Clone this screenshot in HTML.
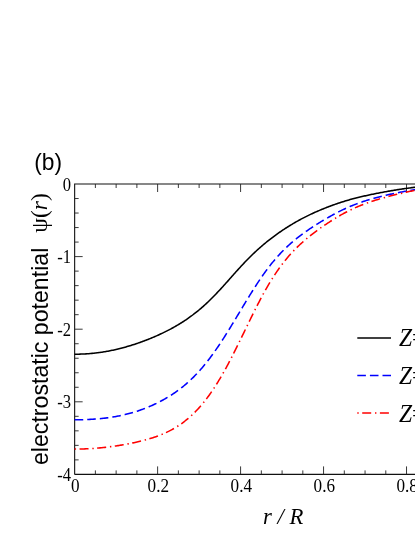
<!DOCTYPE html>
<html><head><meta charset="utf-8"><title>plot</title>
<style>html,body{margin:0;padding:0;background:#fff;}body{width:415px;height:537px;position:relative;overflow:hidden;font-family:"Liberation Sans",sans-serif;}</style>
</head><body>
<svg width="415" height="537" viewBox="0 0 415 537" style="position:absolute;left:0;top:0;will-change:transform">
<g stroke="#111" stroke-width="1.1" fill="none">
<path d="M74.65,474.4 L74.65,184.0 L417,184.0"/>
<path d="M74.65,474.4 L417,474.4"/>
<path d="M95.39,474.4 v-4 M95.39,184.0 v4 M116.14,474.4 v-4 M116.14,184.0 v4 M136.88,474.4 v-4 M136.88,184.0 v4 M157.62,474.4 v-8 M157.62,184.0 v8 M178.36,474.4 v-4 M178.36,184.0 v4 M199.11,474.4 v-4 M199.11,184.0 v4 M219.85,474.4 v-4 M219.85,184.0 v4 M240.59,474.4 v-8 M240.59,184.0 v8 M261.33,474.4 v-4 M261.33,184.0 v4 M282.08,474.4 v-4 M282.08,184.0 v4 M302.82,474.4 v-4 M302.82,184.0 v4 M323.56,474.4 v-8 M323.56,184.0 v8 M344.30,474.4 v-4 M344.30,184.0 v4 M365.05,474.4 v-4 M365.05,184.0 v4 M385.79,474.4 v-4 M385.79,184.0 v4 M406.53,474.4 v-8 M406.53,184.0 v8 M427.27,474.4 v-4 M427.27,184.0 v4 M74.65,198.52 h4 M74.65,213.04 h4 M74.65,227.56 h4 M74.65,242.08 h4 M74.65,256.60 h8 M74.65,271.12 h4 M74.65,285.64 h4 M74.65,300.16 h4 M74.65,314.68 h4 M74.65,329.20 h8 M74.65,343.72 h4 M74.65,358.24 h4 M74.65,372.76 h4 M74.65,387.28 h4 M74.65,401.80 h8 M74.65,416.32 h4 M74.65,430.84 h4 M74.65,445.36 h4 M74.65,459.88 h4" stroke-width="0.9" stroke="#222"/>
</g>
<g fill="none" stroke-width="1.55" stroke-linejoin="round">
<path d="M74.65,354.20 L75.00,354.20 L76.00,354.20 L77.00,354.19 L78.00,354.18 L79.00,354.16 L80.00,354.13 L81.00,354.10 L82.00,354.06 L83.00,354.02 L84.00,353.97 L85.00,353.92 L86.00,353.86 L87.00,353.80 L88.00,353.73 L89.00,353.65 L90.00,353.57 L91.00,353.48 L92.00,353.39 L93.00,353.29 L94.00,353.19 L95.00,353.08 L96.00,352.96 L97.00,352.84 L98.00,352.71 L99.00,352.58 L100.00,352.44 L101.00,352.30 L102.00,352.15 L103.00,352.00 L104.00,351.84 L105.00,351.67 L106.00,351.50 L107.00,351.32 L108.00,351.14 L109.00,350.95 L110.00,350.75 L111.00,350.55 L112.00,350.35 L113.00,350.14 L114.00,349.92 L115.00,349.70 L116.00,349.47 L117.00,349.24 L118.00,349.00 L119.00,348.75 L120.00,348.50 L121.00,348.25 L122.00,347.99 L123.00,347.72 L124.00,347.45 L125.00,347.18 L126.00,346.90 L127.00,346.61 L128.00,346.32 L129.00,346.02 L130.00,345.72 L131.00,345.42 L132.00,345.10 L133.00,344.79 L134.00,344.47 L135.00,344.14 L136.00,343.81 L137.00,343.47 L138.00,343.13 L139.00,342.78 L140.00,342.43 L141.00,342.07 L142.00,341.71 L143.00,341.34 L144.00,340.97 L145.00,340.59 L146.00,340.21 L147.00,339.82 L148.00,339.43 L149.00,339.03 L150.00,338.62 L151.00,338.22 L152.00,337.80 L153.00,337.38 L154.00,336.96 L155.00,336.53 L156.00,336.09 L157.00,335.65 L158.00,335.20 L159.00,334.75 L160.00,334.29 L161.00,333.82 L162.00,333.35 L163.00,332.87 L164.00,332.39 L165.00,331.89 L166.00,331.40 L167.00,330.89 L168.00,330.38 L169.00,329.86 L170.00,329.34 L171.00,328.81 L172.00,328.27 L173.00,327.72 L174.00,327.16 L175.00,326.59 L176.00,326.02 L177.00,325.44 L178.00,324.85 L179.00,324.25 L180.00,323.64 L181.00,323.02 L182.00,322.39 L183.00,321.75 L184.00,321.10 L185.00,320.44 L186.00,319.77 L187.00,319.08 L188.00,318.39 L189.00,317.69 L190.00,316.97 L191.00,316.24 L192.00,315.50 L193.00,314.75 L194.00,313.99 L195.00,313.22 L196.00,312.43 L197.00,311.63 L198.00,310.81 L199.00,309.99 L200.00,309.15 L201.00,308.30 L202.00,307.43 L203.00,306.55 L204.00,305.66 L205.00,304.75 L206.00,303.83 L207.00,302.90 L208.00,301.95 L209.00,300.99 L210.00,300.01 L211.00,299.03 L212.00,298.03 L213.00,297.02 L214.00,296.00 L215.00,294.98 L216.00,293.94 L217.00,292.89 L218.00,291.83 L219.00,290.77 L220.00,289.69 L221.00,288.61 L222.00,287.52 L223.00,286.43 L224.00,285.32 L225.00,284.22 L226.00,283.10 L227.00,281.98 L228.00,280.86 L229.00,279.74 L230.00,278.61 L231.00,277.48 L232.00,276.35 L233.00,275.23 L234.00,274.10 L235.00,272.97 L236.00,271.85 L237.00,270.74 L238.00,269.62 L239.00,268.52 L240.00,267.42 L241.00,266.32 L242.00,265.24 L243.00,264.16 L244.00,263.10 L245.00,262.04 L246.00,261.00 L247.00,259.97 L248.00,258.95 L249.00,257.94 L250.00,256.95 L251.00,255.96 L252.00,254.99 L253.00,254.02 L254.00,253.07 L255.00,252.13 L256.00,251.20 L257.00,250.29 L258.00,249.38 L259.00,248.48 L260.00,247.60 L261.00,246.72 L262.00,245.86 L263.00,245.00 L264.00,244.16 L265.00,243.33 L266.00,242.51 L267.00,241.69 L268.00,240.89 L269.00,240.10 L270.00,239.32 L271.00,238.54 L272.00,237.78 L273.00,237.03 L274.00,236.28 L275.00,235.55 L276.00,234.82 L277.00,234.10 L278.00,233.39 L279.00,232.69 L280.00,232.00 L281.00,231.31 L282.00,230.64 L283.00,229.97 L284.00,229.31 L285.00,228.65 L286.00,228.01 L287.00,227.37 L288.00,226.74 L289.00,226.11 L290.00,225.50 L291.00,224.89 L292.00,224.29 L293.00,223.69 L294.00,223.10 L295.00,222.52 L296.00,221.95 L297.00,221.38 L298.00,220.82 L299.00,220.27 L300.00,219.72 L301.00,219.18 L302.00,218.65 L303.00,218.13 L304.00,217.61 L305.00,217.10 L306.00,216.59 L307.00,216.09 L308.00,215.60 L309.00,215.12 L310.00,214.64 L311.00,214.16 L312.00,213.70 L313.00,213.24 L314.00,212.78 L315.00,212.33 L316.00,211.89 L317.00,211.45 L318.00,211.02 L319.00,210.59 L320.00,210.16 L321.00,209.75 L322.00,209.33 L323.00,208.92 L324.00,208.52 L325.00,208.12 L326.00,207.72 L327.00,207.33 L328.00,206.95 L329.00,206.56 L330.00,206.19 L331.00,205.81 L332.00,205.44 L333.00,205.08 L334.00,204.72 L335.00,204.36 L336.00,204.01 L337.00,203.67 L338.00,203.33 L339.00,202.99 L340.00,202.66 L341.00,202.34 L342.00,202.01 L343.00,201.70 L344.00,201.39 L345.00,201.08 L346.00,200.78 L347.00,200.48 L348.00,200.19 L349.00,199.90 L350.00,199.62 L351.00,199.35 L352.00,199.07 L353.00,198.80 L354.00,198.54 L355.00,198.28 L356.00,198.02 L357.00,197.77 L358.00,197.52 L359.00,197.27 L360.00,197.03 L361.00,196.79 L362.00,196.56 L363.00,196.32 L364.00,196.09 L365.00,195.87 L366.00,195.64 L367.00,195.42 L368.00,195.20 L369.00,194.99 L370.00,194.77 L371.00,194.56 L372.00,194.35 L373.00,194.15 L374.00,193.94 L375.00,193.74 L376.00,193.54 L377.00,193.34 L378.00,193.15 L379.00,192.96 L380.00,192.77 L381.00,192.58 L382.00,192.39 L383.00,192.20 L384.00,192.02 L385.00,191.84 L386.00,191.66 L387.00,191.48 L388.00,191.30 L389.00,191.13 L390.00,190.96 L391.00,190.79 L392.00,190.62 L393.00,190.45 L394.00,190.28 L395.00,190.12 L396.00,189.96 L397.00,189.80 L398.00,189.64 L399.00,189.48 L400.00,189.33 L401.00,189.18 L402.00,189.03 L403.00,188.88 L404.00,188.73 L405.00,188.59 L406.00,188.45 L407.00,188.31 L408.00,188.17 L409.00,188.03 L410.00,187.90 L411.00,187.77 L412.00,187.64 L413.00,187.51 L414.00,187.39 L415.00,187.26 L416.00,187.14 L417.00,187.02 L418.00,186.90" stroke="#000"/>
<path d="M74.65,419.77 L75.00,419.77 L76.00,419.77 L77.00,419.76 L78.00,419.76 L79.00,419.74 L80.00,419.73 L81.00,419.71 L82.00,419.69 L83.00,419.66 L84.00,419.63 L85.00,419.60 L86.00,419.56 L87.00,419.52 L88.00,419.48 L89.00,419.43 L90.00,419.38 L91.00,419.33 L92.00,419.27 L93.00,419.21 L94.00,419.14 L95.00,419.07 L96.00,418.99 L97.00,418.91 L98.00,418.83 L99.00,418.74 L100.00,418.65 L101.00,418.55 L102.00,418.45 L103.00,418.34 L104.00,418.23 L105.00,418.11 L106.00,417.99 L107.00,417.86 L108.00,417.73 L109.00,417.59 L110.00,417.45 L111.00,417.30 L112.00,417.15 L113.00,416.99 L114.00,416.82 L115.00,416.65 L116.00,416.48 L117.00,416.29 L118.00,416.10 L119.00,415.91 L120.00,415.70 L121.00,415.50 L122.00,415.28 L123.00,415.06 L124.00,414.83 L125.00,414.59 L126.00,414.35 L127.00,414.10 L128.00,413.85 L129.00,413.58 L130.00,413.31 L131.00,413.04 L132.00,412.75 L133.00,412.46 L134.00,412.16 L135.00,411.85 L136.00,411.54 L137.00,411.22 L138.00,410.89 L139.00,410.55 L140.00,410.21 L141.00,409.85 L142.00,409.49 L143.00,409.12 L144.00,408.75 L145.00,408.36 L146.00,407.97 L147.00,407.57 L148.00,407.16 L149.00,406.75 L150.00,406.32 L151.00,405.89 L152.00,405.45 L153.00,405.00 L154.00,404.54 L155.00,404.07 L156.00,403.59 L157.00,403.10 L158.00,402.60 L159.00,402.10 L160.00,401.58 L161.00,401.05 L162.00,400.52 L163.00,399.97 L164.00,399.41 L165.00,398.85 L166.00,398.27 L167.00,397.68 L168.00,397.08 L169.00,396.47 L170.00,395.85 L171.00,395.22 L172.00,394.57 L173.00,393.91 L174.00,393.24 L175.00,392.55 L176.00,391.85 L177.00,391.14 L178.00,390.41 L179.00,389.67 L180.00,388.91 L181.00,388.14 L182.00,387.35 L183.00,386.55 L184.00,385.73 L185.00,384.90 L186.00,384.04 L187.00,383.17 L188.00,382.29 L189.00,381.38 L190.00,380.46 L191.00,379.52 L192.00,378.56 L193.00,377.58 L194.00,376.59 L195.00,375.57 L196.00,374.54 L197.00,373.48 L198.00,372.41 L199.00,371.32 L200.00,370.20 L201.00,369.07 L202.00,367.92 L203.00,366.74 L204.00,365.54 L205.00,364.33 L206.00,363.09 L207.00,361.83 L208.00,360.55 L209.00,359.24 L210.00,357.92 L211.00,356.58 L212.00,355.22 L213.00,353.84 L214.00,352.45 L215.00,351.03 L216.00,349.60 L217.00,348.15 L218.00,346.69 L219.00,345.21 L220.00,343.71 L221.00,342.20 L222.00,340.67 L223.00,339.13 L224.00,337.57 L225.00,336.00 L226.00,334.42 L227.00,332.83 L228.00,331.22 L229.00,329.61 L230.00,327.98 L231.00,326.35 L232.00,324.71 L233.00,323.06 L234.00,321.41 L235.00,319.75 L236.00,318.09 L237.00,316.42 L238.00,314.76 L239.00,313.09 L240.00,311.42 L241.00,309.75 L242.00,308.09 L243.00,306.43 L244.00,304.77 L245.00,303.11 L246.00,301.46 L247.00,299.82 L248.00,298.19 L249.00,296.56 L250.00,294.94 L251.00,293.33 L252.00,291.74 L253.00,290.15 L254.00,288.57 L255.00,287.01 L256.00,285.46 L257.00,283.93 L258.00,282.41 L259.00,280.90 L260.00,279.41 L261.00,277.94 L262.00,276.49 L263.00,275.06 L264.00,273.65 L265.00,272.26 L266.00,270.89 L267.00,269.54 L268.00,268.21 L269.00,266.90 L270.00,265.61 L271.00,264.35 L272.00,263.10 L273.00,261.88 L274.00,260.68 L275.00,259.49 L276.00,258.33 L277.00,257.18 L278.00,256.06 L279.00,254.96 L280.00,253.87 L281.00,252.81 L282.00,251.76 L283.00,250.74 L284.00,249.73 L285.00,248.74 L286.00,247.77 L287.00,246.82 L288.00,245.89 L289.00,244.97 L290.00,244.07 L291.00,243.19 L292.00,242.32 L293.00,241.46 L294.00,240.63 L295.00,239.80 L296.00,238.99 L297.00,238.19 L298.00,237.40 L299.00,236.63 L300.00,235.87 L301.00,235.11 L302.00,234.37 L303.00,233.64 L304.00,232.91 L305.00,232.20 L306.00,231.49 L307.00,230.79 L308.00,230.10 L309.00,229.41 L310.00,228.73 L311.00,228.06 L312.00,227.40 L313.00,226.74 L314.00,226.09 L315.00,225.45 L316.00,224.81 L317.00,224.18 L318.00,223.55 L319.00,222.93 L320.00,222.32 L321.00,221.71 L322.00,221.10 L323.00,220.51 L324.00,219.91 L325.00,219.32 L326.00,218.74 L327.00,218.16 L328.00,217.58 L329.00,217.01 L330.00,216.45 L331.00,215.89 L332.00,215.33 L333.00,214.78 L334.00,214.24 L335.00,213.70 L336.00,213.17 L337.00,212.65 L338.00,212.13 L339.00,211.62 L340.00,211.12 L341.00,210.62 L342.00,210.13 L343.00,209.65 L344.00,209.18 L345.00,208.71 L346.00,208.26 L347.00,207.81 L348.00,207.36 L349.00,206.93 L350.00,206.50 L351.00,206.08 L352.00,205.67 L353.00,205.27 L354.00,204.87 L355.00,204.48 L356.00,204.10 L357.00,203.72 L358.00,203.35 L359.00,202.99 L360.00,202.63 L361.00,202.28 L362.00,201.94 L363.00,201.60 L364.00,201.27 L365.00,200.95 L366.00,200.63 L367.00,200.32 L368.00,200.01 L369.00,199.71 L370.00,199.41 L371.00,199.12 L372.00,198.83 L373.00,198.55 L374.00,198.27 L375.00,198.00 L376.00,197.73 L377.00,197.47 L378.00,197.21 L379.00,196.95 L380.00,196.70 L381.00,196.45 L382.00,196.20 L383.00,195.96 L384.00,195.72 L385.00,195.49 L386.00,195.25 L387.00,195.02 L388.00,194.79 L389.00,194.57 L390.00,194.35 L391.00,194.13 L392.00,193.91 L393.00,193.70 L394.00,193.49 L395.00,193.28 L396.00,193.07 L397.00,192.87 L398.00,192.67 L399.00,192.48 L400.00,192.28 L401.00,192.09 L402.00,191.90 L403.00,191.72 L404.00,191.54 L405.00,191.36 L406.00,191.19 L407.00,191.01 L408.00,190.84 L409.00,190.68 L410.00,190.52 L411.00,190.36 L412.00,190.20 L413.00,190.05 L414.00,189.89 L415.00,189.75 L416.00,189.60 L417.00,189.46 L418.00,189.32" stroke="#0000ff" stroke-dasharray="8.6 4"/>
<path d="M74.65,449.08 L75.00,449.08 L76.00,449.08 L77.00,449.08 L78.00,449.07 L79.00,449.05 L80.00,449.04 L81.00,449.01 L82.00,448.99 L83.00,448.96 L84.00,448.93 L85.00,448.89 L86.00,448.85 L87.00,448.80 L88.00,448.76 L89.00,448.70 L90.00,448.65 L91.00,448.59 L92.00,448.52 L93.00,448.46 L94.00,448.38 L95.00,448.31 L96.00,448.23 L97.00,448.15 L98.00,448.06 L99.00,447.97 L100.00,447.88 L101.00,447.78 L102.00,447.68 L103.00,447.58 L104.00,447.47 L105.00,447.36 L106.00,447.25 L107.00,447.13 L108.00,447.01 L109.00,446.88 L110.00,446.75 L111.00,446.62 L112.00,446.49 L113.00,446.35 L114.00,446.21 L115.00,446.06 L116.00,445.91 L117.00,445.76 L118.00,445.61 L119.00,445.45 L120.00,445.29 L121.00,445.12 L122.00,444.95 L123.00,444.78 L124.00,444.61 L125.00,444.43 L126.00,444.25 L127.00,444.06 L128.00,443.87 L129.00,443.68 L130.00,443.48 L131.00,443.29 L132.00,443.08 L133.00,442.87 L134.00,442.66 L135.00,442.45 L136.00,442.23 L137.00,442.00 L138.00,441.77 L139.00,441.54 L140.00,441.30 L141.00,441.05 L142.00,440.80 L143.00,440.55 L144.00,440.29 L145.00,440.02 L146.00,439.75 L147.00,439.47 L148.00,439.19 L149.00,438.90 L150.00,438.60 L151.00,438.30 L152.00,437.98 L153.00,437.66 L154.00,437.34 L155.00,437.00 L156.00,436.65 L157.00,436.30 L158.00,435.93 L159.00,435.55 L160.00,435.17 L161.00,434.77 L162.00,434.36 L163.00,433.94 L164.00,433.51 L165.00,433.06 L166.00,432.61 L167.00,432.14 L168.00,431.65 L169.00,431.16 L170.00,430.64 L171.00,430.12 L172.00,429.58 L173.00,429.02 L174.00,428.45 L175.00,427.86 L176.00,427.26 L177.00,426.63 L178.00,425.99 L179.00,425.34 L180.00,424.66 L181.00,423.97 L182.00,423.26 L183.00,422.52 L184.00,421.77 L185.00,421.00 L186.00,420.21 L187.00,419.40 L188.00,418.56 L189.00,417.71 L190.00,416.83 L191.00,415.93 L192.00,415.00 L193.00,414.06 L194.00,413.09 L195.00,412.09 L196.00,411.07 L197.00,410.03 L198.00,408.96 L199.00,407.86 L200.00,406.74 L201.00,405.59 L202.00,404.42 L203.00,403.22 L204.00,401.99 L205.00,400.73 L206.00,399.45 L207.00,398.13 L208.00,396.79 L209.00,395.42 L210.00,394.02 L211.00,392.60 L212.00,391.15 L213.00,389.66 L214.00,388.16 L215.00,386.62 L216.00,385.06 L217.00,383.47 L218.00,381.86 L219.00,380.22 L220.00,378.55 L221.00,376.86 L222.00,375.14 L223.00,373.39 L224.00,371.62 L225.00,369.83 L226.00,368.01 L227.00,366.16 L228.00,364.29 L229.00,362.41 L230.00,360.50 L231.00,358.57 L232.00,356.62 L233.00,354.66 L234.00,352.68 L235.00,350.69 L236.00,348.68 L237.00,346.67 L238.00,344.64 L239.00,342.61 L240.00,340.56 L241.00,338.52 L242.00,336.46 L243.00,334.40 L244.00,332.34 L245.00,330.28 L246.00,328.22 L247.00,326.16 L248.00,324.10 L249.00,322.04 L250.00,320.00 L251.00,317.95 L252.00,315.92 L253.00,313.90 L254.00,311.88 L255.00,309.88 L256.00,307.90 L257.00,305.92 L258.00,303.97 L259.00,302.03 L260.00,300.11 L261.00,298.22 L262.00,296.34 L263.00,294.49 L264.00,292.67 L265.00,290.87 L266.00,289.10 L267.00,287.35 L268.00,285.63 L269.00,283.95 L270.00,282.28 L271.00,280.65 L272.00,279.04 L273.00,277.46 L274.00,275.91 L275.00,274.39 L276.00,272.89 L277.00,271.42 L278.00,269.97 L279.00,268.56 L280.00,267.17 L281.00,265.80 L282.00,264.47 L283.00,263.16 L284.00,261.87 L285.00,260.62 L286.00,259.39 L287.00,258.18 L288.00,257.00 L289.00,255.84 L290.00,254.71 L291.00,253.60 L292.00,252.52 L293.00,251.45 L294.00,250.41 L295.00,249.38 L296.00,248.37 L297.00,247.39 L298.00,246.42 L299.00,245.47 L300.00,244.53 L301.00,243.61 L302.00,242.71 L303.00,241.82 L304.00,240.94 L305.00,240.08 L306.00,239.23 L307.00,238.39 L308.00,237.56 L309.00,236.74 L310.00,235.94 L311.00,235.14 L312.00,234.36 L313.00,233.58 L314.00,232.82 L315.00,232.06 L316.00,231.32 L317.00,230.58 L318.00,229.85 L319.00,229.13 L320.00,228.41 L321.00,227.71 L322.00,227.01 L323.00,226.32 L324.00,225.63 L325.00,224.95 L326.00,224.27 L327.00,223.61 L328.00,222.94 L329.00,222.29 L330.00,221.64 L331.00,220.99 L332.00,220.36 L333.00,219.73 L334.00,219.10 L335.00,218.49 L336.00,217.88 L337.00,217.28 L338.00,216.68 L339.00,216.10 L340.00,215.52 L341.00,214.95 L342.00,214.39 L343.00,213.83 L344.00,213.29 L345.00,212.75 L346.00,212.22 L347.00,211.70 L348.00,211.19 L349.00,210.69 L350.00,210.20 L351.00,209.71 L352.00,209.24 L353.00,208.77 L354.00,208.31 L355.00,207.86 L356.00,207.41 L357.00,206.98 L358.00,206.55 L359.00,206.13 L360.00,205.71 L361.00,205.31 L362.00,204.91 L363.00,204.52 L364.00,204.13 L365.00,203.76 L366.00,203.39 L367.00,203.03 L368.00,202.67 L369.00,202.32 L370.00,201.98 L371.00,201.64 L372.00,201.31 L373.00,200.98 L374.00,200.66 L375.00,200.35 L376.00,200.04 L377.00,199.73 L378.00,199.43 L379.00,199.13 L380.00,198.84 L381.00,198.55 L382.00,198.27 L383.00,197.99 L384.00,197.71 L385.00,197.43 L386.00,197.16 L387.00,196.89 L388.00,196.63 L389.00,196.36 L390.00,196.10 L391.00,195.84 L392.00,195.59 L393.00,195.33 L394.00,195.08 L395.00,194.83 L396.00,194.59 L397.00,194.34 L398.00,194.10 L399.00,193.86 L400.00,193.63 L401.00,193.39 L402.00,193.16 L403.00,192.93 L404.00,192.70 L405.00,192.47 L406.00,192.25 L407.00,192.02 L408.00,191.80 L409.00,191.58 L410.00,191.36 L411.00,191.15 L412.00,190.93 L413.00,190.72 L414.00,190.51 L415.00,190.30 L416.00,190.10 L417.00,189.89 L418.00,189.69" stroke="#ff0000" stroke-dasharray="1.4 3.5 9 3.8"/>
<path d="M357.3,338 H391" stroke="#000"/>
<path d="M357.3,375.5 H391" stroke="#0000ff" stroke-dasharray="8.6 4"/>
<path d="M357.3,413 H391" stroke="#ff0000" stroke-dasharray="1.4 3.5 9 3.8"/>
</g>
<g font-family="Liberation Serif, serif" font-size="18.2" fill="#000">
<text transform="translate(75.4,491.8) scale(0.943,1)" text-anchor="middle">0</text>
<text transform="translate(158.3,491.8) scale(0.943,1)" text-anchor="middle">0.2</text>
<text transform="translate(241.3,491.8) scale(0.943,1)" text-anchor="middle">0.4</text>
<text transform="translate(324.3,491.8) scale(0.943,1)" text-anchor="middle">0.6</text>
<text transform="translate(407.2,491.8) scale(0.943,1)" text-anchor="middle">0.8</text>
<text transform="translate(71.1,190.6) scale(0.91,1)" text-anchor="end">0</text>
<text transform="translate(71.1,263.2) scale(0.91,1)" text-anchor="end">-1</text>
<text transform="translate(71.1,335.8) scale(0.91,1)" text-anchor="end">-2</text>
<text transform="translate(71.1,408.4) scale(0.91,1)" text-anchor="end">-3</text>
<text transform="translate(71.1,481.0) scale(0.91,1)" text-anchor="end">-4</text>
</g>
<text transform="translate(262.9,523.5) scale(0.967,1)" font-family="Liberation Serif, serif" font-style="italic" font-size="23.5" fill="#000">r / R</text>
<text transform="translate(399,346.0) scale(0.97,1)" font-family="Liberation Serif, serif" font-size="24.3" fill="#000"><tspan font-style="italic">Z</tspan>=1000</text>
<text transform="translate(399,383.7) scale(0.97,1)" font-family="Liberation Serif, serif" font-size="24.3" fill="#000"><tspan font-style="italic">Z</tspan>=1000</text>
<text transform="translate(399,421.5) scale(0.97,1)" font-family="Liberation Serif, serif" font-size="24.3" fill="#000"><tspan font-style="italic">Z</tspan>=1000</text>
<text transform="translate(34.2,169.7) scale(0.99,1)" font-family="Liberation Sans, sans-serif" font-size="23" fill="#000">(b)</text>
<text transform="translate(47.5,465) rotate(-90) scale(0.952,1)" font-family="Liberation Sans, sans-serif" font-size="24.3" fill="#000">electrostatic potential</text>
<text transform="translate(47.0,232.8) rotate(-90)" font-family="Liberation Serif, serif" font-size="23.5" fill="#000">ψ(<tspan font-style="italic">r</tspan>)</text>
</svg>
</body></html>
